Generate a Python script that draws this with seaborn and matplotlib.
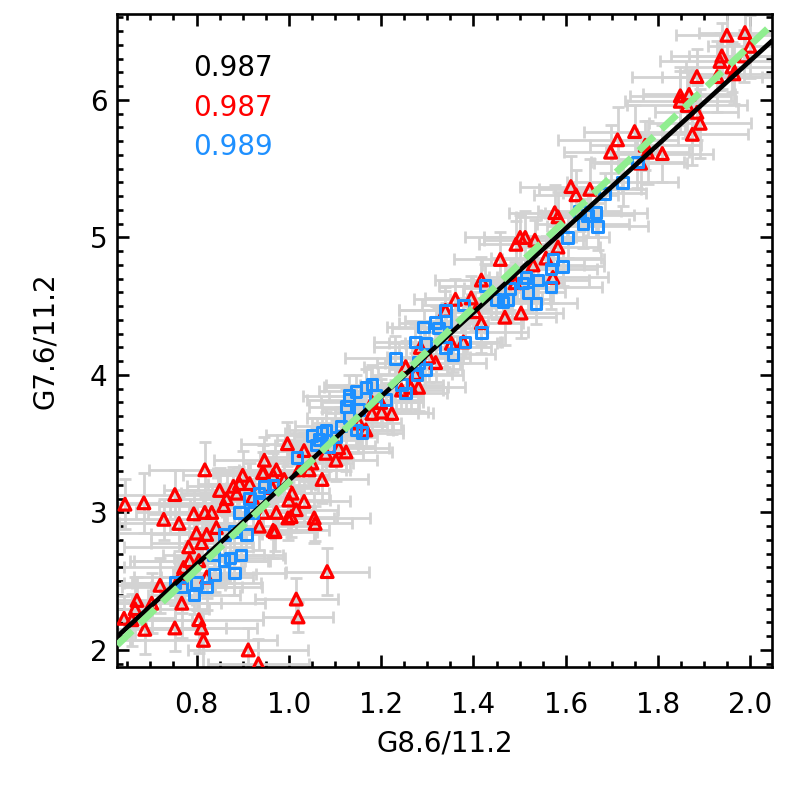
import numpy as np
import matplotlib
matplotlib.use('Agg')
import matplotlib.pyplot as plt
import seaborn as sns
from matplotlib.ticker import MultipleLocator

# Datos: triangulos rojos
red_x = [0.818, 0.686, 0.753, 0.729, 0.762, 0.794, 0.818, 0.833, 0.850, 0.865,
         0.880, 0.900, 0.915, 0.945, 0.966, 0.859, 0.843, 0.800, 0.822, 0.783,
         0.811, 0.805, 0.785, 0.772, 0.764, 0.721, 0.671, 0.667, 0.643, 0.660,
         0.703, 0.688, 0.768, 0.753, 0.805, 0.811, 0.815, 0.912, 0.934, 0.822,
         0.945, 0.966, 0.936, 1.083, 1.016, 1.020, 1.057, 0.998, 0.970, 0.645,
         0.997, 1.033, 0.947, 0.973, 0.943, 0.893, 0.887, 0.921, 0.964, 0.990,
         1.007, 1.033, 1.000, 1.022, 1.044, 1.050, 1.072, 1.080, 1.102, 1.108,
         1.124, 1.016, 0.973, 1.005, 1.152, 1.167, 1.180, 1.180, 1.055, 1.361,
         1.339, 1.404, 1.417, 1.352, 1.378, 1.303, 1.318, 1.285, 1.253, 1.274,
         1.281, 1.244, 1.264, 1.201, 1.223, 1.199, 1.611, 1.622, 1.576, 1.501,
         1.512, 1.533, 1.492, 1.458, 1.557, 1.583, 1.529, 1.417, 1.490, 1.572,
         1.395, 1.503, 1.468, 1.848, 1.749, 1.712, 1.697, 1.772, 1.777, 1.809,
         1.762, 1.652, 1.583, 1.949, 1.988, 1.999, 1.986, 1.938, 1.934, 1.960,
         1.964, 1.928, 1.884, 1.848, 1.867, 1.863, 1.884, 1.891, 1.874]
red_y = [3.31, 3.07, 3.13, 2.95, 2.92, 2.99, 3.00, 3.00, 3.16, 3.10,
         3.19, 3.27, 3.21, 3.29, 3.27, 3.05, 2.89, 2.85, 2.84, 2.75,
         2.78, 2.65, 2.65, 2.60, 2.53, 2.47, 2.36, 2.30, 2.23, 2.22,
         2.34, 2.15, 2.34, 2.16, 2.22, 2.16, 2.07, 2.00, 1.90, 2.53,
         3.00, 2.87, 2.90, 2.57, 2.37, 2.24, 2.92, 2.96, 2.86, 3.06,
         3.50, 3.45, 3.38, 3.31, 3.29, 3.21, 3.14, 3.11, 3.18, 3.24,
         3.14, 3.08, 3.09, 3.31, 3.31, 3.36, 3.24, 3.43, 3.38, 3.47,
         3.44, 3.02, 3.00, 2.97, 3.65, 3.60, 3.72, 3.80, 2.96, 4.55,
         4.47, 4.46, 4.38, 4.23, 4.24, 4.13, 4.09, 4.20, 4.06, 4.01,
         3.91, 3.89, 3.91, 3.73, 3.72, 3.80, 5.37, 5.31, 5.18, 5.00,
         5.00, 4.98, 4.95, 4.84, 4.85, 4.93, 4.80, 4.69, 4.67, 4.71,
         4.56, 4.45, 4.42, 5.99, 5.77, 5.71, 5.62, 5.67, 5.62, 5.61,
         5.54, 5.35, 5.15, 6.47, 6.49, 6.39, 6.32, 6.32, 6.28, 6.24,
         6.19, 6.17, 6.17, 6.03, 6.04, 5.96, 5.91, 5.83, 5.75]
red_xerr = [0.12, 0.16, 0.14, 0.11, 0.13, 0.10, 0.15, 0.09, 0.12, 0.11,
            0.10, 0.13, 0.09, 0.11, 0.12, 0.14, 0.10, 0.17, 0.12, 0.14,
            0.11, 0.15, 0.12, 0.13, 0.10, 0.14, 0.12, 0.16, 0.11, 0.13,
            0.15, 0.12, 0.18, 0.11, 0.14, 0.12, 0.16, 0.13, 0.11, 0.10,
            0.09, 0.12, 0.11, 0.09, 0.09, 0.075, 0.08, 0.10, 0.09, 0.14,
            0.10, 0.09, 0.11, 0.08, 0.10, 0.09, 0.12, 0.08, 0.10, 0.09,
            0.08, 0.10, 0.09, 0.11, 0.08, 0.09, 0.10, 0.08, 0.09, 0.11,
            0.10, 0.09, 0.08, 0.10, 0.09, 0.08, 0.10, 0.11, 0.12, 0.09,
            0.10, 0.08, 0.09, 0.10, 0.08, 0.09, 0.11, 0.10, 0.09, 0.08,
            0.10, 0.09, 0.08, 0.10, 0.09, 0.08, 0.11, 0.09, 0.10, 0.12,
            0.09, 0.11, 0.08, 0.10, 0.12, 0.09, 0.11, 0.10, 0.09, 0.12,
            0.10, 0.09, 0.11, 0.12, 0.11, 0.13, 0.10, 0.12, 0.09, 0.11,
            0.10, 0.11, 0.09, 0.11, 0.10, 0.09, 0.12, 0.11, 0.13, 0.10,
            0.09, 0.12, 0.14, 0.11, 0.10, 0.13, 0.09, 0.11, 0.12]
red_yerr = [0.20, 0.22, 0.18, 0.15, 0.20, 0.17, 0.14, 0.19, 0.16, 0.21,
            0.14, 0.18, 0.15, 0.20, 0.16, 0.13, 0.19, 0.22, 0.15, 0.17,
            0.16, 0.21, 0.14, 0.18, 0.15, 0.20, 0.17, 0.23, 0.16, 0.19,
            0.22, 0.18, 0.25, 0.17, 0.24, 0.13, 0.20, 0.16, 0.18, 0.15,
            0.14, 0.20, 0.17, 0.17, 0.15, 0.11, 0.13, 0.16, 0.14, 0.18,
            0.16, 0.13, 0.17, 0.14, 0.15, 0.12, 0.16, 0.13, 0.11, 0.14,
            0.12, 0.15, 0.13, 0.16, 0.12, 0.14, 0.17, 0.13, 0.15, 0.12,
            0.14, 0.16, 0.13, 0.15, 0.17, 0.13, 0.16, 0.14, 0.18, 0.15,
            0.17, 0.14, 0.16, 0.13, 0.15, 0.18, 0.14, 0.16, 0.19, 0.15,
            0.17, 0.14, 0.16, 0.13, 0.15, 0.17, 0.22, 0.18, 0.20, 0.16,
            0.19, 0.15, 0.17, 0.20, 0.16, 0.18, 0.21, 0.17, 0.15, 0.19,
            0.16, 0.18, 0.20, 0.22, 0.19, 0.24, 0.20, 0.18, 0.23, 0.21,
            0.19, 0.22, 0.18, 0.17, 0.20, 0.23, 0.19, 0.24, 0.21, 0.18,
            0.22, 0.26, 0.20, 0.21, 0.18, 0.24, 0.20, 0.25, 0.22]

# Cuadrados azules
blue_x = [0.753, 0.768, 0.794, 0.822, 0.839, 0.800, 0.837, 0.859, 0.872, 0.897,
          0.882, 0.861, 0.882, 0.908, 0.893, 0.915, 0.936, 0.947, 0.966, 0.923,
          0.936, 1.018, 1.050, 1.059, 1.072, 1.087, 1.102, 1.124, 1.130, 1.130,
          1.152, 1.167, 1.180, 1.145, 1.158, 1.425, 1.378, 1.318, 1.324, 1.341,
          1.292, 1.417, 1.274, 1.296, 1.339, 1.356, 1.382, 1.231, 1.281, 1.296,
          1.277, 1.253, 1.145, 1.130, 1.188, 1.210, 1.244, 1.637, 1.604, 1.572,
          1.593, 1.568, 1.514, 1.540, 1.507, 1.479, 1.518, 1.535, 1.449, 1.464,
          1.475, 1.339, 1.568, 1.755, 1.723, 1.684, 1.665, 1.647, 1.630, 1.669,
          1.065, 1.080, 1.113]
blue_y = [2.49, 2.46, 2.40, 2.46, 2.55, 2.49, 2.69, 2.65, 2.67, 2.69,
          2.56, 2.84, 2.86, 2.84, 3.00, 3.10, 3.08, 3.19, 3.20, 3.00,
          3.14, 3.40, 3.56, 3.49, 3.58, 3.48, 3.55, 3.77, 3.85, 3.69,
          3.75, 3.91, 3.93, 3.60, 3.58, 4.65, 4.51, 4.38, 4.34, 4.39,
          4.35, 4.31, 4.24, 4.23, 4.20, 4.15, 4.24, 4.12, 4.09, 4.04,
          4.00, 3.87, 3.88, 3.82, 3.85, 3.82, 3.93, 5.10, 5.00, 4.84,
          4.79, 4.77, 4.71, 4.69, 4.67, 4.63, 4.60, 4.52, 4.55, 4.53,
          4.55, 4.47, 4.64, 5.55, 5.40, 5.32, 5.18, 5.16, 5.19, 5.08,
          3.53, 3.60, 3.63]
blue_xerr = [0.11, 0.13, 0.10, 0.12, 0.09, 0.14, 0.11, 0.10, 0.12, 0.09,
             0.11, 0.10, 0.12, 0.09, 0.11, 0.10, 0.08, 0.10, 0.09, 0.11,
             0.09, 0.08, 0.10, 0.09, 0.08, 0.10, 0.09, 0.08, 0.10, 0.09,
             0.08, 0.09, 0.10, 0.08, 0.09, 0.10, 0.09, 0.08, 0.10, 0.09,
             0.08, 0.10, 0.09, 0.08, 0.10, 0.09, 0.08, 0.11, 0.09, 0.08,
             0.10, 0.09, 0.08, 0.09, 0.10, 0.08, 0.09, 0.10, 0.09, 0.11,
             0.09, 0.10, 0.08, 0.11, 0.09, 0.10, 0.08, 0.09, 0.10, 0.08,
             0.09, 0.10, 0.11, 0.10, 0.12, 0.09, 0.11, 0.10, 0.09, 0.11,
             0.09, 0.08, 0.10]
blue_yerr = [0.16, 0.19, 0.14, 0.17, 0.13, 0.20, 0.15, 0.14, 0.18, 0.13,
             0.16, 0.14, 0.17, 0.12, 0.15, 0.13, 0.11, 0.14, 0.12, 0.15,
             0.12, 0.11, 0.13, 0.12, 0.11, 0.14, 0.12, 0.13, 0.15, 0.12,
             0.11, 0.13, 0.14, 0.12, 0.11, 0.16, 0.14, 0.12, 0.15, 0.13,
             0.12, 0.15, 0.13, 0.11, 0.14, 0.13, 0.12, 0.16, 0.13, 0.12,
             0.14, 0.13, 0.12, 0.11, 0.14, 0.12, 0.13, 0.18, 0.15, 0.17,
             0.14, 0.16, 0.13, 0.15, 0.14, 0.16, 0.13, 0.15, 0.14, 0.12,
             0.15, 0.14, 0.16, 0.19, 0.17, 0.15, 0.18, 0.16, 0.14, 0.17,
             0.12, 0.13, 0.14]

# Rectas: ajuste (negra) y referencia (verde)
fit_slope, fit_intercept = 3.054, 0.179
ref_slope, ref_intercept = 3.181, 0.038

corr_labels = ['0.987', '0.987', '0.989']
corr_colors = ['black', 'red', '#1E90FF']

sns.set_style('ticks')
plt.rcParams['font.family'] = ['DejaVu Sans']
plt.rcParams['axes.linewidth'] = 1.9
for k in ['axes.edgecolor', 'xtick.color', 'ytick.color', 'axes.labelcolor', 'text.color']:
    plt.rcParams[k] = 'black'

fig = plt.figure(figsize=(7.86, 7.86), dpi=100)
ax = fig.add_axes([0.149, 0.1514, 0.8334, 0.8308])

gris = '#d3d3d3'
ax.errorbar(red_x, red_y, xerr=red_xerr, yerr=red_yerr, fmt='none',
            ecolor=gris, elinewidth=2.0, capsize=4, capthick=2.0, zorder=1)
ax.errorbar(blue_x, blue_y, xerr=blue_xerr, yerr=blue_yerr, fmt='none',
            ecolor=gris, elinewidth=2.0, capsize=4, capthick=2.0, zorder=1)

sns.scatterplot(x=red_x, y=red_y, marker='^', s=72, color='red',
                facecolor='none', edgecolor='red', linewidth=2.3, ax=ax, zorder=3)
sns.scatterplot(x=blue_x, y=blue_y, marker='s', s=56, color='#1E90FF',
                facecolor='none', edgecolor='#1E90FF', linewidth=2.2, ax=ax, zorder=3)

ax.axline((0, fit_intercept), slope=fit_slope, color='black', lw=3.4, zorder=4)
ax.axline((0, ref_intercept), slope=ref_slope, color='#90EE90', lw=5,
          linestyle=(0, (3.0, 1.5)), zorder=5)

ax.set_xlim(0.628, 2.047)
ax.set_ylim(1.876, 6.625)
ax.xaxis.set_major_locator(MultipleLocator(0.2))
ax.xaxis.set_minor_locator(MultipleLocator(0.05))
ax.yaxis.set_major_locator(MultipleLocator(1))
ax.yaxis.set_minor_locator(MultipleLocator(0.1))
ax.xaxis.set_major_formatter(matplotlib.ticker.FormatStrFormatter('%.1f'))
ax.tick_params(which='both', direction='in', top=True, right=True, width=1.9,
               labelsize=20, colors='black')
ax.tick_params(which='major', length=8.5)
ax.tick_params(which='minor', length=4.5)
ax.tick_params(axis='x', pad=17)
ax.tick_params(axis='y', pad=7)

ax.set_xlabel('G8.6/11.2', fontsize=20, color='black')
ax.set_ylabel('G7.6/11.2', fontsize=20, color='black')
ax.xaxis.set_label_coords(0.5, -0.095)
ax.yaxis.set_label_coords(-0.0885, 0.5)

for i, (txt, col) in enumerate(zip(corr_labels, corr_colors)):
    ax.text(0.116, 0.917 - 0.0605 * i, txt, color=col, fontsize=20,
            transform=ax.transAxes, va='center', ha='left')

fig.savefig('out.png', dpi=100)
